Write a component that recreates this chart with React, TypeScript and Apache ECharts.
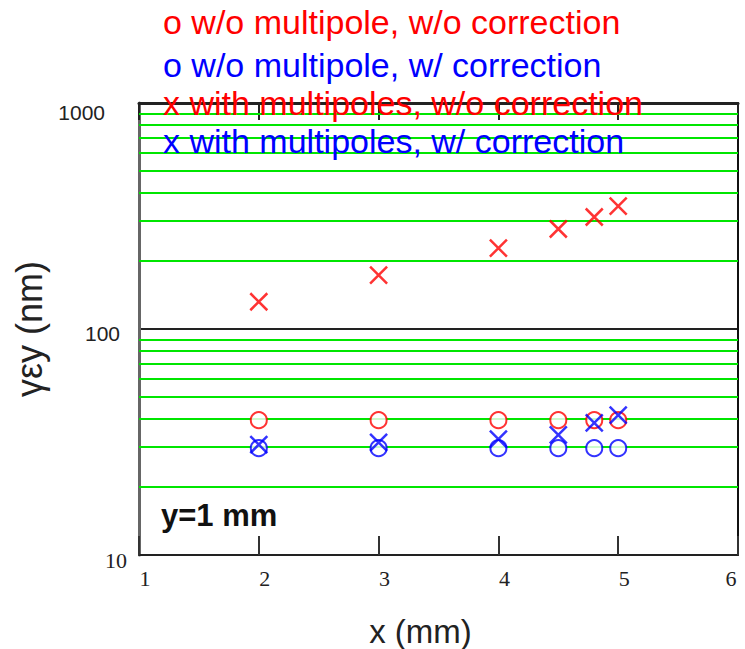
import React, { useEffect, useRef } from "react";
import * as echarts from "echarts";

const xValues = [2, 3, 4, 4.5, 4.8, 5];
const redCircle = [39.5, 39.5, 39.5, 39.5, 39.5, 39.5];
const blueCircle = [29.7, 29.7, 29.7, 29.7, 29.7, 29.7];
const redCross = [132, 173, 228, 277, 313, 350];
const blueCross = [30.8, 31.5, 32.6, 34.0, 38.4, 41.6];
const minorGrid = [20, 30, 40, 50, 60, 70, 80, 90, 200, 300, 400, 500, 600, 700, 800, 900];
const legendLines = [
  { text: "o w/o multipole, w/o correction", color: "#ff0000" },
  { text: "o w/o multipole, w/ correction", color: "#0000ff" },
  { text: "x with multipoles, w/o correction", color: "#ff0000" },
  { text: "x with multipoles, w/ correction", color: "#0000ff" },
];
const xTicks = { min: 1, max: 6, interval: 1 };
const yRange = { min: 10, max: 1000 };

const CROSS = "path://M0,0L10,10M10,0L0,10";
const legendTops = [5, 48, 86, 124];

function pairs(ys: number[]) {
  return xValues.map((x, i) => [x, ys[i]]);
}

export default function App() {
  const ref = useRef<HTMLDivElement>(null);
  useEffect(() => {
    if (!ref.current) return;
    const chart = echarts.init(ref.current, undefined, { renderer: "svg" });
    const sans = "Liberation Sans";
    const serif = "Liberation Serif";
    chart.setOption({
      animation: false,
      backgroundColor: "#ffffff",
      grid: { left: 139, right: 7, top: 103, bottom: 94, containLabel: false, outerBoundsMode: "none" },
      xAxis: [
        {
          type: "value",
          position: "bottom",
          min: xTicks.min,
          max: xTicks.max,
          interval: xTicks.interval,
          name: "x (mm)",
          nameLocation: "middle",
          nameGap: 60,
          nameTextStyle: { fontFamily: sans, fontSize: 33, color: "#222", padding: [0, 36, 0, 0] },
          axisLine: { show: true, lineStyle: { color: "#222", width: 2 } },
          axisTick: { show: true, inside: true, length: 19, lineStyle: { color: "#333", width: 2 } },
          axisLabel: {
            margin: 12,
            showMinLabel: true,
            showMaxLabel: true,
            formatter: (v: number) => (Math.round(v) === xTicks.max ? "{e|" + v + "}" : "{d|" + v + "}"),
            rich: {
              d: { fontFamily: serif, fontSize: 22, color: "#222", padding: [0, 0, 0, 12] },
              e: { fontFamily: serif, fontSize: 22, color: "#222", padding: [0, 14, 0, 0] },
            },
          },
          splitLine: { show: false },
        },
        {
          type: "value",
          position: "top",
          min: xTicks.min,
          max: xTicks.max,
          interval: xTicks.interval,
          axisLine: { show: true, lineStyle: { color: "#222", width: 3 } },
          axisTick: { show: true, inside: true, length: 17, lineStyle: { color: "#222", width: 2 } },
          axisLabel: { show: false },
          splitLine: { show: false },
        },
      ],
      yAxis: [
        {
          type: "log",
          logBase: 10,
          min: yRange.min,
          max: yRange.max,
          position: "left",
          name: "γεy (nm)",
          nameLocation: "middle",
          nameRotate: 90,
          nameGap: 84,
          nameTextStyle: { fontFamily: sans, fontSize: 36, color: "#222" },
          axisLine: { show: true, lineStyle: { color: "#666", width: 3 } },
          axisTick: { show: false },
          axisLabel: {
            showMinLabel: true,
            showMaxLabel: true,
            margin: 8,
            fontFamily: sans,
            formatter: (v: number) => {
              const r = Math.round(v);
              if (r === 1000) return "{a|1000}";
              if (r === 100) return "{b|100}";
              return "{c|" + r + "}";
            },
            rich: {
              a: { fontFamily: sans, fontSize: 21, color: "#222", padding: [18, 26, 0, 0] },
              b: { fontFamily: sans, fontSize: 21, color: "#222", padding: [8, 11, 0, 0] },
              c: { fontFamily: serif, fontSize: 22, color: "#222", padding: [10, 4, 0, 0] },
            },
          },
          splitLine: { show: true, lineStyle: { color: "#222", width: 2 } },
        },
        {
          type: "log",
          logBase: 10,
          min: yRange.min,
          max: yRange.max,
          position: "right",
          axisLine: { show: true, lineStyle: { color: "#111", width: 2 } },
          axisTick: { show: false },
          axisLabel: { show: false },
          splitLine: { show: false },
        },
      ],
      series: [
        {
          type: "scatter",
          name: "o w/o multipole, w/o correction",
          data: pairs(redCircle),
          symbol: "emptyCircle",
          symbolSize: 16,
          z: 5,
          itemStyle: { color: "#ff0000", borderColor: "#ff0000", borderWidth: 2 },
          markLine: {
            silent: true,
            symbol: "none",
            label: { show: false },
            lineStyle: { color: "#00e600", width: 2, type: "solid" },
            data: minorGrid.map((v) => ({ yAxis: v })),
            z: 1,
          },
        },
        {
          type: "scatter",
          name: "o w/o multipole, w/ correction",
          data: pairs(blueCircle),
          symbol: "emptyCircle",
          symbolSize: 16,
          z: 5,
          itemStyle: { color: "#0000ff", borderColor: "#0000ff", borderWidth: 2 },
        },
        {
          type: "scatter",
          name: "x with multipoles, w/o correction",
          data: pairs(redCross),
          symbol: CROSS,
          symbolSize: 17,
          z: 6,
          itemStyle: { color: "#ff0000", borderColor: "#ff0000", borderWidth: 2.5 },
        },
        {
          type: "scatter",
          name: "x with multipoles, w/ correction",
          data: pairs(blueCross),
          symbol: CROSS,
          symbolSize: 17,
          z: 6,
          itemStyle: { color: "#0000ff", borderColor: "#0000ff", borderWidth: 2.5 },
        },
      ],
      graphic: [
        ...legendLines.map((l, i) => ({
          type: "text",
          left: 163,
          top: legendTops[i],
          z: 10,
          style: { text: l.text, fill: l.color, font: "34px '" + sans + "'" },
        })),
        {
          type: "text",
          left: 161,
          top: 500,
          z: 10,
          style: { text: "y=1 mm", fill: "#111", font: "bold 31px '" + sans + "'" },
        },
      ],
    });
    return () => chart.dispose();
  }, []);
  return (
    <div
      ref={ref}
      style={{ position: "fixed", left: 0, top: 0, width: 745, height: 649, background: "#fff" }}
    />
  );
}
